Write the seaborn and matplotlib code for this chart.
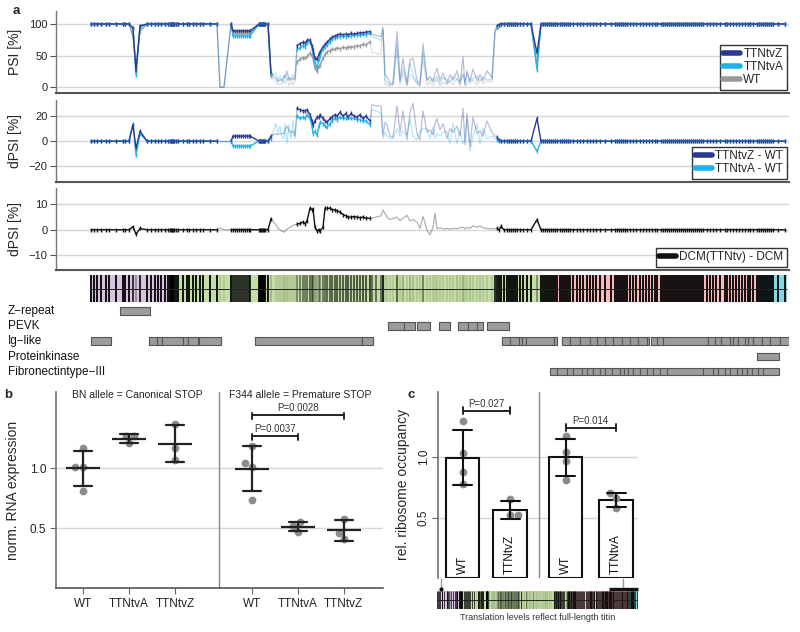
import numpy as np
import pandas as pd
import matplotlib
matplotlib.use("Agg")
import matplotlib.pyplot as plt
from matplotlib.lines import Line2D
from matplotlib.patches import Rectangle
import seaborn as sns

# ===================== Panel a data (titin exons) =====================
exon_pos = [
    91, 94, 97, 101, 106, 109, 116, 123, 125, 129,
    133, 136, 140, 147, 151, 155, 158, 161, 165, 168,
    170, 171, 172, 173, 174, 176, 178, 183, 187, 189,
    193, 196, 200, 203, 210, 217,
    220, 224, 231, 233, 235, 237, 239, 241, 243, 245,
    247, 249, 250, 259, 260, 261, 262, 263, 264, 265,
    268, 271,
    276, 278, 280, 282, 284, 285, 287, 289, 291, 293, 295,
    297, 300, 303, 305, 307, 310, 312, 313, 315, 317,
    319, 320, 323, 325, 327, 330, 332, 335, 337, 340,
    343, 346, 348, 351, 354, 357, 360, 363, 366, 370,
    372, 376, 381, 383, 385, 387, 390, 393, 397, 400,
    403, 407, 410, 413, 417, 420, 423, 427, 430, 433,
    435, 437, 440, 443, 447, 450, 453, 457, 460, 463,
    465, 467, 470, 473, 477, 480, 483, 487, 492, 495,
    497, 499, 501, 504, 507, 509, 511, 513, 515, 517,
    520, 523, 527, 531, 537, 541, 543, 545, 547, 549,
    551, 553, 555, 557, 560, 562, 564, 566, 568, 570,
    573, 577, 580, 583, 587, 590, 593, 596, 600, 605,
    611, 615, 617, 619, 621, 623, 625, 627, 630, 633,
    636, 640, 643, 646, 649, 652, 655, 657, 661, 663,
    665, 667, 669, 671, 673, 675, 677, 679, 681, 683,
    685, 687, 689, 691, 693, 695, 697, 699, 701, 703,
    707, 710, 713, 716, 720, 725, 727, 730, 733, 736,
    739, 742, 745, 748, 750, 753, 757, 759, 761, 763,
    765, 767, 769, 771, 773, 778, 785,
]
psi_ttntvz = [
    100, 100, 100, 100, 100, 100, 100, 100, 100, 100,
    93, 25, 97, 100, 100, 100, 100, 100, 100, 100,
    100, 100, 100, 100, 100, 100, 100, 100, 100, 100,
    100, 100, 100, 100, 100, 100,
    0, 0, 100, 89, 89, 89, 89, 89, 89, 89,
    89, 89, 89, 100, 100, 100, 100, 100, 100, 100,
    100, 22,
    14, 9, 12, 11, 18, 15, 26, 11, 15, 12, 14,
    66, 69, 71, 70, 74, 75, 66, 59, 46, 44,
    52, 56, 64, 68, 71, 76, 79, 81, 82, 84,
    83, 84, 83, 85, 84, 85, 86, 86, 87, 88,
    84, 82, 80, 95, 20, 17, 6, 6, 88, 11,
    46, 4, 43, 46, 11, 3, 69, 11, 17, 8,
    22, 30, 11, 22, 6, 20, 11, 26, 6, 48,
    3, 26, 10, 29, 10, 20, 10, 26, 15, 90,
    97, 99, 100, 100, 100, 100, 100, 100, 100, 100,
    100, 100, 100, 100, 54, 100, 100, 100, 100, 100,
    100, 100, 100, 100, 100, 100, 100, 100, 100, 100,
    100, 100, 100, 100, 100, 100, 100, 100, 100, 100,
    100, 100, 100, 100, 100, 100, 100, 100, 100, 100,
    100, 100, 100, 100, 100, 100, 100, 100, 100, 100,
    100, 100, 100, 100, 100, 100, 100, 100, 100, 100,
    100, 100, 100, 100, 100, 100, 100, 100, 100, 100,
    100, 100, 100, 100, 100, 100, 100, 100, 100, 100,
    100, 100, 100, 100, 100, 100, 100, 100, 100, 100,
    100, 100, 100, 100, 100, 100, 100,
]
psi_ttntva = [
    100, 100, 100, 100, 100, 100, 100, 100, 100, 100,
    94, 20, 95, 100, 100, 100, 100, 100, 100, 100,
    100, 100, 100, 100, 100, 100, 100, 100, 100, 100,
    100, 100, 100, 100, 100, 100,
    0, 0, 100, 81, 81, 81, 81, 81, 81, 81,
    81, 81, 81, 100, 100, 100, 100, 100, 100, 100,
    100, 20,
    22, 10, 18, 8, 14, 20, 12, 16, 10, 20, 12,
    60, 62, 66, 64, 70, 72, 62, 52, 38, 30,
    45, 50, 60, 64, 67, 72, 76, 78, 79, 80,
    81, 80, 82, 81, 82, 83, 82, 84, 83, 85,
    80, 78, 74, 92, 12, 8, 4, 5, 70, 8,
    30, 8, 38, 20, 6, 10, 55, 14, 10, 14,
    10, 18, 6, 15, 12, 8, 18, 12, 10, 20,
    8, 22, 6, 14, 18, 10, 16, 12, 12, 88,
    95, 98, 100, 100, 100, 100, 100, 100, 100, 100,
    100, 100, 100, 100, 28, 100, 100, 100, 100, 100,
    100, 100, 100, 100, 100, 100, 100, 100, 100, 100,
    100, 100, 100, 100, 100, 100, 100, 100, 100, 100,
    100, 100, 100, 100, 100, 100, 100, 100, 100, 100,
    100, 100, 100, 100, 100, 100, 100, 100, 100, 100,
    100, 100, 100, 100, 100, 100, 100, 100, 100, 100,
    100, 100, 100, 100, 100, 100, 100, 100, 100, 100,
    100, 100, 100, 100, 100, 100, 100, 100, 100, 100,
    100, 100, 100, 100, 100, 100, 100, 100, 100, 100,
    100, 100, 100, 100, 100, 100, 100,
]
psi_wt = [
    100, 100, 100, 100, 100, 100, 100, 100, 100, 100,
    80, 31, 89, 100, 100, 100, 100, 100, 100, 100,
    100, 100, 100, 100, 100, 100, 100, 100, 100, 100,
    100, 100, 100, 100, 100, 100,
    0, 0, 100, 85, 85, 85, 85, 85, 85, 85,
    85, 85, 85, 100, 100, 100, 100, 100, 100, 100,
    100, 18,
    8, 4, 6, 5, 12, 6, 14, 3, 8, 4, 10,
    40, 44, 47, 46, 49, 54, 50, 46, 30, 25,
    33, 35, 46, 52, 56, 58, 60, 60, 62, 61,
    63, 62, 64, 63, 64, 66, 65, 68, 67, 72,
    55, 54, 52, 90, 5, 4, 2, 3, 60, 4,
    22, 3, 20, 16, 5, 2, 45, 4, 8, 3,
    8, 12, 2, 8, 4, 10, 4, 14, 2, 22,
    6, 4, 14, 10, 4, 12, 6, 10, 8, 86,
    94, 98, 100, 100, 100, 100, 100, 100, 100, 100,
    100, 100, 100, 100, 36, 100, 100, 100, 100, 100,
    100, 100, 100, 100, 100, 100, 100, 100, 100, 100,
    100, 100, 100, 100, 100, 100, 100, 100, 100, 100,
    100, 100, 100, 100, 100, 100, 100, 100, 100, 100,
    100, 100, 100, 100, 100, 100, 100, 100, 100, 100,
    100, 100, 100, 100, 100, 100, 100, 100, 100, 100,
    100, 100, 100, 100, 100, 100, 100, 100, 100, 100,
    100, 100, 100, 100, 100, 100, 100, 100, 100, 100,
    100, 100, 100, 100, 100, 100, 100, 100, 100, 100,
    100, 100, 100, 100, 100, 100, 100,
]
dpsi_dcm = [
    0, 0, 0, 0, 0, 0, 0, 0, 0, 0,
    1.2, -1.8, 0.5, 0, 0, 0, 0, 0, 0, 0,
    0, 0, 0, 0, 0, 0, 0, 0, 0, 0,
    0, 0, 0, 0, 0, 0,
    0.7, 0, 0, 0, 0, 0, 0, 0, 0, 0,
    0, 0, 0, 0, 0, 0, 0, 0, 0, 0,
    0, 4.3,
    2.0, 0.5, 0.0, -0.5, -1.0, -0.6, 0.3, 0.8, 1.2, 1.8, 2.0,
    2.2, 2.5, 3.0, 2.4, 3.5, 8.5, 8.0, 8.2, 1.0, -0.5,
    0.0, -0.5, 1.0, 8.5, 8.5, 8.5, 8.0, 7.8, 7.5, 7.0,
    6.0, 5.5, 5.0, 5.0, 5.2, 5.0, 4.8, 5.0, 4.6, 4.5,
    4.5, 5.0, 5.5, 7.8, 6.5, 5.0, 4.0, 4.5, 5.0, 3.6,
    4.5, 5.7, 3.5, 4.0, 3.0, 0.5, 5.3, -0.2, -2.0, 1.0,
    6.5, 0.5, 0.8, 0.3, 0.5, 0.2, 0.6, 0.4, 0.8, 1.0,
    0.3, 0.9, 0.6, 1.5, 1.0, 1.5, 0.8, 0.5, 0.3, 0.5,
    0.5, 0, 1.3, 0, 0, 0, 0, 0, 0, 0,
    0, 0, 0, 0, 4.0, 0, 0, 0, 0, 0,
    0, 0, 0, 0, 0, 0, 0, 0, 0, 0,
    0, 0, 0, 0, 0, 0, 0, 0, 0, 0,
    0, 0, 0, 0, 0, 0, 0, 0, 0, 0,
    0, 0, 0, 0, 0, 0, 0, 0, 0, 0,
    0, 0, 0, 0, 0, 0, 0, 0, 0, 0,
    0, 0, 0, 0, 0, 0, 0, 0, 0, 0,
    0, 0, 0, 0, 0, 0, 0, 0, 0, 0,
    0, 0, 0, 0, 0, 0, 0, 0, 0, 0,
    0, 0, 0, 0, 0, 0, 0,
]
low_conf = [
    0, 0, 0, 0, 0, 0, 0, 0, 0, 0,
    0, 0, 0, 0, 0, 0, 0, 0, 0, 0,
    0, 0, 0, 0, 0, 0, 0, 0, 0, 0,
    0, 0, 0, 0, 0, 0,
    1, 1, 0, 0, 0, 0, 0, 0, 0, 0,
    0, 0, 0, 0, 0, 0, 0, 0, 0, 0,
    0, 0,
    1, 1, 1, 1, 1, 1, 1, 1, 1, 1, 1,
    0, 0, 0, 0, 0, 0, 0, 0, 0, 0,
    0, 0, 0, 0, 0, 0, 0, 0, 0, 0,
    0, 0, 0, 0, 0, 0, 0, 0, 0, 0,
    1, 1, 1, 1, 1, 1, 1, 1, 1, 1,
    1, 1, 1, 1, 1, 1, 1, 1, 1, 1,
    1, 1, 1, 1, 1, 1, 1, 1, 1, 1,
    1, 1, 1, 1, 1, 1, 1, 1, 1, 1,
    0, 0, 0, 0, 0, 0, 0, 0, 0, 0,
    0, 0, 0, 0, 0, 0, 0, 0, 0, 0,
    0, 0, 0, 0, 0, 0, 0, 0, 0, 0,
    0, 0, 0, 0, 0, 0, 0, 0, 0, 0,
    0, 0, 0, 0, 0, 0, 0, 0, 0, 0,
    0, 0, 0, 0, 0, 0, 0, 0, 0, 0,
    0, 0, 0, 0, 0, 0, 0, 0, 0, 0,
    0, 0, 0, 0, 0, 0, 0, 0, 0, 0,
    0, 0, 0, 0, 0, 0, 0, 0, 0, 0,
    0, 0, 0, 0, 0, 0, 0, 0, 0, 0,
    0, 0, 0, 0, 0, 0, 0,
]

# titin regions (Z-disk, I-band, A-band, M-band) along the track
region_start = [90, 173, 553, 760]
region_end = [173, 553, 760, 787]
region_colors = ["#d8c4df", "#c4dfa6", "#f8baba", "#86d6e4"]

# protein domains: each block lists consecutive domain boundaries
domain_labels = ["Z\u2212repeat", "PEVK", "Ig\u2212like", "Proteinkinase", "Fibronectintype\u2212III"]
dom_zrepeat = [[120, 150]]
dom_pevk = [[388, 404, 415], [417, 430], [439, 450], [458, 468, 477, 483], [487, 509]]
dom_ig = [[91, 111], [149, 157, 162, 183, 188, 198], [199, 221], [255, 362, 373],
          [502, 510, 519, 522, 526, 554, 557],
          [562, 570, 580, 590, 597, 605, 613, 622, 630, 638, 647, 649],
          [651, 657, 663, 708, 715, 721, 730, 733, 738, 745, 748, 753, 762, 770, 780, 791]]
dom_kinase = [[757, 779]]
dom_fn3 = [[550, 557, 567, 573, 582, 587, 593, 600, 605, 612, 620, 624, 628, 633, 640,
            647, 653, 660, 667, 703, 713, 718, 725, 730, 737, 742, 747, 752, 758, 763, 779]]

# ===================== Panel b data =====================
b_groups = ["WT", "TTNtvA", "TTNtvZ", "WT", "TTNtvA", "TTNtvZ"]
b_titles = ["BN allele = Canonical STOP", "F344 allele = Premature STOP"]
b_bn_wt = [1.17, 1.01, 1.01, 0.81]
b_bn_a = [1.27, 1.27, 1.21]
b_bn_z = [1.375, 1.175, 1.07]
b_f344_wt = [1.19, 1.05, 1.01, 0.74]
b_f344_a = [0.55, 0.47, 0.52]
b_f344_z = [0.58, 0.46, 0.41]
b_pvalues = ["P=0.0037", "P=0.0028"]
b_pairs = [(3, 4), (3, 5)]

# ===================== Panel c data =====================
c_groups = ["WT", "TTNtvZ", "WT", "TTNtvA"]
c_wt1 = [1.30, 1.035, 0.88, 0.775]
c_z = [0.65, 0.52, 0.52]
c_wt2 = [1.175, 1.045, 0.97, 0.81]
c_a = [0.70, 0.66, 0.58]
c_pvalues = ["P=0.027", "P=0.014"]
c_pairs = [(0, 1), (2, 3)]

# ===================== styling / layout =====================
sns.set_theme(style="white")
plt.rcParams["font.family"] = ["Liberation Sans", "DejaVu Sans"]

C_Z = "#2b3990"
C_A = "#1fb3ec"
C_WT = "#9a9a9a"
GRID = "#d6d6d6"

W, H = 800, 632
fig = plt.figure(figsize=(8, 6.32), dpi=100)


def rect(l, t, r, b):
    return [l / W, 1 - b / H, (r - l) / W, (b - t) / H]


df = pd.DataFrame({"pos": exon_pos, "Z": psi_ttntvz, "A": psi_ttntva, "WT": psi_wt,
                   "DCM": dpsi_dcm, "low": low_conf})
df["dZ"] = df["Z"] - df["WT"]
df["dA"] = df["A"] - df["WT"]


def segments(col):
    pos = df["pos"].values
    vals = df[col].values
    low = df["low"].values
    rows = []
    run = 0
    prev = None
    for i in range(len(pos) - 1):
        kind = "faint" if (low[i] or low[i + 1]) else "solid"
        if prev is not None and kind != prev:
            run += 1
        prev = kind
        rows.append((run, kind, pos[i], vals[i]))
        rows.append((run, kind, pos[i + 1], vals[i + 1]))
    return pd.DataFrame(rows, columns=["run", "kind", "pos", "val"])


def draw_panel(ax, series):
    for col, color in series:
        seg = segments(col)
        sub = seg[seg["kind"] == "faint"]
        sns.lineplot(data=sub, x="pos", y="val", units="run", estimator=None, sort=False,
                     color=color, alpha=0.33, linewidth=0.9, ax=ax, legend=False)
    for col, color in series:
        seg = segments(col)
        sub = seg[seg["kind"] == "solid"]
        sns.lineplot(data=sub, x="pos", y="val", units="run", estimator=None, sort=False,
                     color=color, linewidth=1.0, ax=ax, legend=False)
        solid = df[df["low"] == 0]
        sns.scatterplot(x=solid["pos"].values, y=solid[col].values, marker="|", s=9,
                        color=color, linewidth=1.0, ax=ax, legend=False)


def style_a(ax, ylim, ticks, label):
    ax.set_xlim(56, 789)
    ax.set_ylim(*ylim)
    ax.set_yticks(ticks)
    ax.set_xlabel("")
    ax.set_ylabel(label, fontsize=10)
    ax.yaxis.set_label_coords(-0.047, 0.5)
    sns.despine(ax=ax)
    ax.spines["left"].set_color("#777")
    ax.spines["left"].set_linewidth(1.0)
    ax.spines["bottom"].set_color("#555")
    ax.spines["bottom"].set_linewidth(1.5)
    ax.tick_params(axis="y", left=True, length=4, width=0.8, color="#555",
                   labelsize=8, labelcolor="#222", pad=2)
    ax.tick_params(axis="x", bottom=False, labelbottom=False)
    ax.yaxis.grid(True, color=GRID, lw=1)
    ax.set_axisbelow(True)


def add_legend(ax, labels, colors):
    handles = [Line2D([0], [0], color=c, lw=4) for c in colors]
    leg = ax.legend(handles, labels, loc="lower right", bbox_to_anchor=(0.997, 0.037),
                    borderaxespad=0, frameon=True, fancybox=False, edgecolor="#333",
                    fontsize=8.5, handlelength=1.4, handletextpad=0.3, borderpad=0.3,
                    labelspacing=0.1, framealpha=1)
    leg.get_frame().set_linewidth(1.0)
    leg.set_zorder(10)


# --- a1 PSI ---
ax1 = fig.add_axes(rect(56, 11, 789, 93))
draw_panel(ax1, [("WT", C_WT), ("A", C_A), ("Z", C_Z)])
style_a(ax1, (-9, 120.5), [0, 50, 100], "PSI [%]")
add_legend(ax1, ["TTNtvZ", "TTNtvA", "WT"], [C_Z, C_A, C_WT])

# --- a2 dPSI ---
ax2 = fig.add_axes(rect(56, 100, 789, 182))
draw_panel(ax2, [("dA", C_A), ("dZ", C_Z)])
style_a(ax2, (-32.5, 32.7), [-20, 0, 20], "dPSI [%]")
add_legend(ax2, ["TTNtvZ - WT", "TTNtvA - WT"], [C_Z, C_A])

# --- a3 DCM ---
ax3 = fig.add_axes(rect(56, 188, 789, 270))
draw_panel(ax3, [("DCM", "#111111")])
style_a(ax3, (-15.9, 16.5), [-10, 0, 10], "dPSI [%]")
add_legend(ax3, ["DCM(TTNtv) - DCM"], ["#111111"])

# --- track + domains (data coords == pixels) ---
axt = fig.add_axes(rect(56, 272, 789, 380))
axt.set_xlim(56, 789)
axt.set_ylim(380, 272)
axt.axis("off")


def draw_track(ax, y0, y1, lw):
    for s, e, c in zip(region_start, region_end, region_colors):
        ax.add_patch(Rectangle((s, y0), e - s, y1 - y0, facecolor=c, edgecolor="none", zorder=1))
    cols = [(0, 0, 0, max(0.1, w / 100.0)) for w in psi_wt]
    ax.vlines(exon_pos, y0, y1, colors=cols, linewidth=lw, zorder=2)
    ax.hlines((y0 + y1) / 2, region_start[0], region_end[-1], color="#222", lw=0.7, zorder=3)


draw_track(axt, 275, 302, 1.3)
row_y = [311, 326, 341, 356.5, 371.5]
for yc, blocks in zip(row_y, [dom_zrepeat, dom_pevk, dom_ig, dom_kinase, dom_fn3]):
    for b in blocks:
        bars = [(b[i], b[i + 1] - b[i]) for i in range(len(b) - 1)]
        axt.broken_barh(bars, (yc - 3.8, 7.6), facecolors="#9c9c9c", edgecolors="#555555",
                        linewidth=0.8)
for yc, name in zip(row_y, domain_labels):
    axt.text(8, yc, name, ha="left", va="center", fontsize=8.5, color="#111", clip_on=False)

# ===================== panel b =====================
b_pos = [0, 1, 2, 3.67, 4.67, 5.67]
b_all = [b_bn_wt, b_bn_a, b_bn_z, b_f344_wt, b_f344_a, b_f344_z]
dfb = pd.DataFrame([(b_pos[g], v) for g, vals in enumerate(b_all) for v in vals],
                   columns=["pos", "val"])
axb = fig.add_axes(rect(56, 392, 383, 588))
axb.set_xlim(-0.587, 6.52)
axb.set_ylim(0, 1.64)
sns.swarmplot(data=dfb, x="pos", y="val", native_scale=True, orient="x", color="#8c8c8c",
              size=5.6, ax=axb, zorder=1.5, legend=False)
sns.pointplot(data=dfb, x="pos", y="val", native_scale=True, orient="x", errorbar="sd",
              capsize=0.38, linestyle="none", marker="_", markersize=24,
              markeredgewidth=1.6, color="#222", err_kws={"linewidth": 1.6}, ax=axb)
axb.set_xlim(-0.587, 6.52)
axb.set_ylim(0, 1.64)
axb.axvline(2.96, color="#888", lw=1)
axb.set_xticks(b_pos)
axb.set_xticklabels(b_groups, fontsize=8.5)
axb.set_yticks([0.5, 1.0])
axb.set_yticklabels(["0.5", "1.0"], fontsize=8.5)
axb.set_xlabel("")
axb.set_ylabel("norm. RNA expression", fontsize=10)
axb.yaxis.set_label_coords(-0.11, 0.5)
sns.despine(ax=axb)
axb.spines["left"].set_color("#777")
axb.spines["bottom"].set_color("#555")
axb.spines["bottom"].set_linewidth(1.2)
axb.tick_params(axis="both", length=4, width=0.8, color="#666", labelcolor="#222", pad=3,
                left=True, bottom=True)
axb.yaxis.grid(True, color=GRID, lw=1)
axb.set_axisbelow(True)
axb.text(1.17, 1.617, b_titles[0], ha="center", va="center", fontsize=7.5, color="#222")
axb.text(4.72, 1.617, b_titles[1], ha="center", va="center", fontsize=7.5, color="#222")


def bracket(ax, x0, x1, y, text, up=0.015, down=0.035):
    ax.plot([x0, x1], [y, y], color="#222", lw=1.4, solid_capstyle="butt")
    for x in (x0, x1):
        ax.plot([x, x], [y - down, y + up], color="#222", lw=1.4)
    ax.text((x0 + x1) / 2, y + 0.012, text, ha="center", va="bottom", fontsize=7, color="#333")


for (i, j), txt, y in zip(b_pairs, b_pvalues, [1.275, 1.45]):
    bracket(axb, b_pos[i], b_pos[j], y, txt)

# ===================== panel c =====================
c_pos = [0, 0.95, 2.06, 3.07]
c_all = [c_wt1, c_z, c_wt2, c_a]
dfc = pd.DataFrame([(c_pos[g], v) for g, vals in enumerate(c_all) for v in vals],
                   columns=["pos", "val"])
axc = fig.add_axes(rect(438, 392, 638, 578))
axc.set_xlim(-0.49, 3.51)
axc.set_ylim(0, 1.54)
sns.barplot(data=dfc, x="pos", y="val", native_scale=True, orient="x", errorbar="sd",
            capsize=0.4, width=0.7, color="white", saturation=1, edgecolor="#111",
            linewidth=1.5, err_kws={"color": "#111", "linewidth": 1.5}, ax=axc)
sns.swarmplot(data=dfc, x="pos", y="val", native_scale=True, orient="x", color="#8c8c8c",
              size=5.6, ax=axc, zorder=1.5, legend=False)
axc.set_xlim(-0.49, 3.51)
axc.set_ylim(0, 1.54)
axc.axvline(1.53, color="#888", lw=1)
axc.set_xticks([])
axc.set_yticks([0.5, 1.0])
axc.set_yticklabels(["0.5", "1.0"], fontsize=8.5, rotation=90, va="center")
axc.set_xlabel("")
axc.set_ylabel("rel. ribosome occupancy", fontsize=10)
axc.yaxis.set_label_coords(-0.14, 0.5)
sns.despine(ax=axc, bottom=True)
axc.spines["left"].set_color("#777")
axc.tick_params(axis="y", left=True, length=4, width=0.8, color="#666", labelcolor="#222", pad=2)
axc.yaxis.grid(True, color=GRID, lw=1)
axc.set_axisbelow(True)
for p, g in zip(c_pos, c_groups):
    axc.text(p, 0.035, g, rotation=90, ha="center", va="bottom", fontsize=8.5, color="#111")
for (i, j), txt, y in zip(c_pairs, c_pvalues, [1.386, 1.245]):
    bracket(axc, c_pos[i], c_pos[j], y, txt, up=0.03, down=0.03)

# mini titin track under panel c
axm = fig.add_axes(rect(437, 591, 638, 609))
axm.set_xlim(90, 787)
axm.set_ylim(1, 0)
axm.axis("off")
draw_track(axm, 0, 1, 0.5)

# ===================== overlay: labels and markers =====================
ov = fig.add_axes([0, 0, 1, 1], zorder=20)
ov.set_xlim(0, W)
ov.set_ylim(H, 0)
ov.axis("off")
ov.patch.set_alpha(0)
ov.text(16, 11, "a", fontsize=9.5, fontweight="bold", ha="center", va="center")
ov.text(8, 395, "b", fontsize=9.5, fontweight="bold", ha="center", va="center")
ov.text(411, 395, "c", fontsize=9.5, fontweight="bold", ha="center", va="center")
ov.plot([441, 441], [579, 587], color="#999", lw=1)
ov.plot([441], [588.5], marker="o", ms=2, color="#111")
ov.plot([623, 623], [579, 587], color="#999", lw=1)
ov.plot([609, 638], [588.5, 588.5], color="#111", lw=2.4, solid_capstyle="butt")
ov.text(537.5, 618, "Translation levels reflect full-length titin", ha="center", va="center",
        fontsize=6.5, color="#333")

fig.savefig("out.png", dpi=100)
